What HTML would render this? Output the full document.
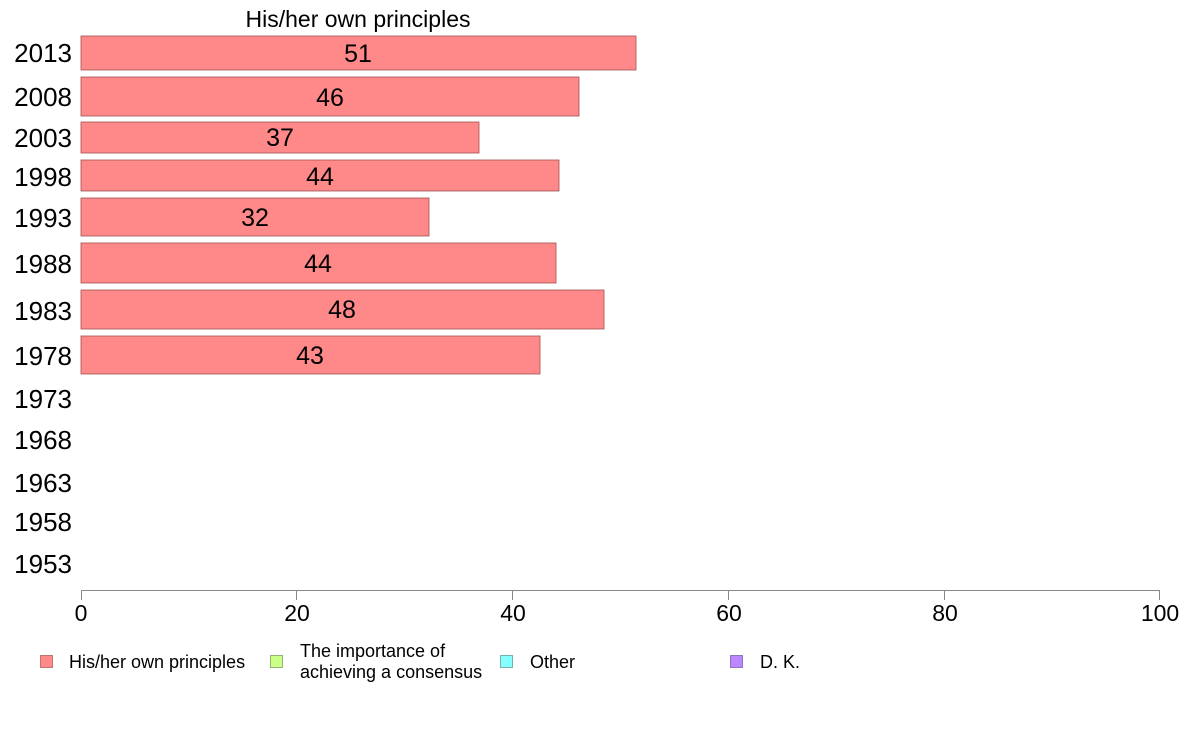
<!DOCTYPE html>
<html><head><meta charset="utf-8"><style>body{margin:0;background:#fff}svg{display:block;font-family:"Liberation Sans",Arial,sans-serif}</style></head><body>
<svg width="1188" height="736" viewBox="0 0 1188 736">
<text x="358" y="27" font-size="23" text-anchor="middle">His/her own principles</text>
<g fill="#ff8888" stroke="#a05050" stroke-width="0.8">
<rect x="81" y="36" width="555" height="34"/>
<rect x="81" y="77" width="498" height="39"/>
<rect x="81" y="122" width="398" height="31"/>
<rect x="81" y="160" width="478" height="31"/>
<rect x="81" y="198" width="348" height="38"/>
<rect x="81" y="243" width="475" height="40"/>
<rect x="81" y="290" width="523" height="39"/>
<rect x="81" y="336" width="459" height="38"/>
</g>
<g font-size="25" text-anchor="middle">
<text x="358" y="62">51</text>
<text x="330" y="106">46</text>
<text x="280" y="146">37</text>
<text x="320" y="185">44</text>
<text x="255" y="226">32</text>
<text x="318" y="272">44</text>
<text x="342" y="318">48</text>
<text x="310" y="364">43</text>
</g>
<g font-size="26" text-anchor="end">
<text x="72" y="62">2013</text>
<text x="72" y="106">2008</text>
<text x="72" y="147">2003</text>
<text x="72" y="186">1998</text>
<text x="72" y="227">1993</text>
<text x="72" y="273">1988</text>
<text x="72" y="320">1983</text>
<text x="72" y="365">1978</text>
<text x="72" y="408">1973</text>
<text x="72" y="449">1968</text>
<text x="72" y="492">1963</text>
<text x="72" y="531">1958</text>
<text x="72" y="573">1953</text>
</g>
<g stroke="#888" stroke-width="1" fill="none">
<line x1="81" y1="590.5" x2="1160" y2="590.5"/>
<line x1="81.5" y1="590" x2="81.5" y2="600"/>
<line x1="296.5" y1="590" x2="296.5" y2="600"/>
<line x1="512.5" y1="590" x2="512.5" y2="600"/>
<line x1="728.5" y1="590" x2="728.5" y2="600"/>
<line x1="944.5" y1="590" x2="944.5" y2="600"/>
<line x1="1159.5" y1="590" x2="1159.5" y2="600"/>
</g>
<g font-size="23" text-anchor="middle">
<text x="81" y="621">0</text>
<text x="297" y="621">20</text>
<text x="513" y="621">40</text>
<text x="729" y="621">60</text>
<text x="945" y="621">80</text>
<text x="1160" y="621">100</text>
</g>
<g stroke-width="0.8">
<rect x="40.5" y="655.5" width="12" height="12" fill="#ff8888" stroke="#b06060"/>
<rect x="270.5" y="655.5" width="12" height="12" fill="#ccff88" stroke="#80a060"/>
<rect x="500.5" y="655.5" width="12" height="12" fill="#88ffff" stroke="#60a0a0"/>
<rect x="730.5" y="655.5" width="12" height="12" fill="#bb88ff" stroke="#8060b0"/>
</g>
<g font-size="18">
<text x="69" y="668">His/her own principles</text>
<text x="300" y="657">The importance of</text>
<text x="300" y="678">achieving a consensus</text>
<text x="530" y="668">Other</text>
<text x="760" y="668">D. K.</text>
</g>
</svg>
</body></html>
